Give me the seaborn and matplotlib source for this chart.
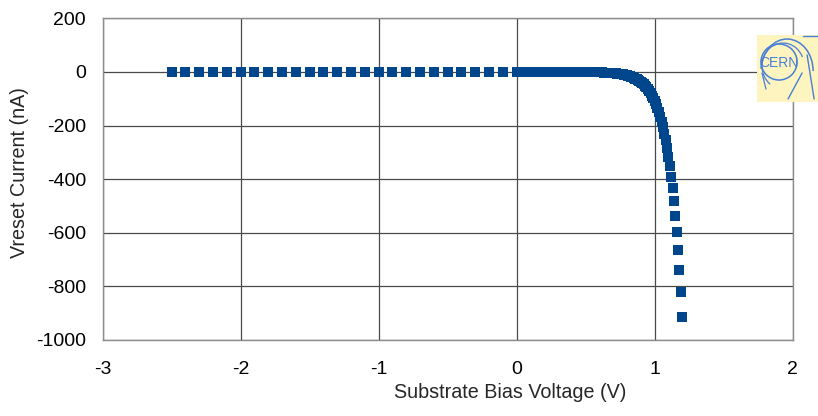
import matplotlib
matplotlib.use("Agg")
import matplotlib.pyplot as plt
from matplotlib.patches import Circle, Arc
import seaborn as sns
import pandas as pd

# Substrate bias sweep: coarse steps in reverse bias, fine steps in forward bias
reverse_bias_v = [-2.5, -2.4, -2.3, -2.2, -2.1, -2.0, -1.9, -1.8, -1.7, -1.6,
                  -1.5, -1.4, -1.3, -1.2, -1.1, -1.0, -0.9, -0.8, -0.7, -0.6,
                  -0.5, -0.4, -0.3, -0.2, -0.1]
reverse_bias_na = [0.0, 0.0, 0.0, 0.0, 0.0, 0.0, 0.0, 0.0, 0.0, 0.0,
                   0.0, 0.0, 0.0, 0.0, 0.0, 0.0, 0.0, 0.0, 0.0, 0.0,
                   0.0, 0.0, 0.0, 0.0, 0.0]

forward_bias_v = [0.00, 0.01, 0.02, 0.03, 0.04, 0.05, 0.06, 0.07, 0.08, 0.09,
                  0.10, 0.11, 0.12, 0.13, 0.14, 0.15, 0.16, 0.17, 0.18, 0.19,
                  0.20, 0.21, 0.22, 0.23, 0.24, 0.25, 0.26, 0.27, 0.28, 0.29,
                  0.30, 0.31, 0.32, 0.33, 0.34, 0.35, 0.36, 0.37, 0.38, 0.39,
                  0.40, 0.41, 0.42, 0.43, 0.44, 0.45, 0.46, 0.47, 0.48, 0.49,
                  0.50, 0.51, 0.52, 0.53, 0.54, 0.55, 0.56, 0.57, 0.58, 0.59,
                  0.60, 0.61, 0.62, 0.63, 0.64, 0.65, 0.66, 0.67, 0.68, 0.69,
                  0.70, 0.71, 0.72, 0.73, 0.74, 0.75, 0.76, 0.77, 0.78, 0.79,
                  0.80, 0.81, 0.82, 0.83, 0.84, 0.85, 0.86, 0.87, 0.88, 0.89,
                  0.90, 0.91, 0.92, 0.93, 0.94, 0.95, 0.96, 0.97, 0.98, 0.99,
                  1.00, 1.01, 1.02, 1.03, 1.04, 1.05, 1.06, 1.07, 1.08, 1.09,
                  1.10, 1.11, 1.12, 1.13, 1.14, 1.15, 1.16, 1.17, 1.18, 1.19,
                  1.20]
forward_bias_na = [0.0, 0.0, 0.0, 0.0, 0.0, 0.0, 0.0, 0.0, 0.0, 0.0,
                   0.0, 0.0, 0.0, 0.0, 0.0, 0.0, 0.0, 0.0, 0.0, 0.0,
                   0.0, 0.0, 0.0, 0.0, 0.0, -0.1, -0.1, -0.1, -0.1, -0.1,
                   -0.1, -0.1, -0.1, -0.1, -0.1, -0.1, -0.1, -0.2, -0.2, -0.2,
                   -0.2, -0.2, -0.3, -0.3, -0.3, -0.3, -0.4, -0.4, -0.4, -0.5,
                   -0.5, -0.6, -0.7, -0.7, -0.8, -0.9, -1.0, -1.1, -1.3, -1.4,
                   -1.6, -1.7, -1.9, -2.2, -2.4, -2.7, -3.0, -3.3, -3.7, -4.1,
                   -4.5, -5.0, -5.6, -6.2, -6.9, -7.7, -8.6, -9.5, -10.6, -11.8,
                   -13.1, -14.6, -16.2, -18.0, -20.0, -22.3, -24.7, -27.5, -30.6, -34.0,
                   -37.8, -42.1, -46.8, -52.0, -57.8, -64.3, -71.5, -79.5, -88.4, -98.3,
                   -109.3, -121.5, -135.2, -150.3, -167.1, -185.8, -206.6, -229.8, -255.5, -284.1,
                   -315.9, -351.3, -390.6, -434.4, -483.0, -537.1, -597.2, -664.0, -738.4, -821.1,
                   -913.0]

x_ticks = [-3, -2, -1, 0, 1, 2]
y_ticks = [-1000, -800, -600, -400, -200, 0, 200]
x_title = "Substrate Bias Voltage (V)"
y_title = "Vreset Current (nA)"

df = pd.DataFrame({
    "voltage": reverse_bias_v + forward_bias_v,
    "current": reverse_bias_na + forward_bias_na,
})

sns.set_style("white")
plt.rcParams["font.family"] = ["Liberation Sans", "DejaVu Sans"]
plt.rcParams["axes.unicode_minus"] = False

fig = plt.figure(figsize=(8.18, 4.16), dpi=100)
ax = fig.add_axes([0.1255, 0.1827, 0.8435, 0.7733])

sns.scatterplot(data=df, x="voltage", y="current", ax=ax, marker="s",
                s=50, color="#00468c", linewidth=0, zorder=3)

ax.set_xlim(-3, 2)
ax.set_ylim(-1000, 200)
ax.set_xticks(x_ticks)
ax.set_yticks(y_ticks)
ax.set_xticklabels([str(t) for t in x_ticks])
ax.set_yticklabels([str(t) for t in y_ticks])
ax.tick_params(axis="both", length=0, labelsize=14, colors="black")
ax.tick_params(axis="x", pad=15)
ax.tick_params(axis="y", pad=12)

ax.grid(True, color="#4a4a4a", linewidth=0.9)
ax.set_axisbelow(True)
for sp in ax.spines.values():
    sp.set_color("#8c8c8c")
    sp.set_linewidth(1.0)

ax.set_xlabel(x_title, fontsize=14.2)
ax.set_ylabel(y_title, fontsize=14.2)
ax.xaxis.label.set_va("center")
ax.yaxis.label.set_va("center")
ax.xaxis.set_label_coords(0.59, -0.163)
ax.yaxis.set_label_coords(-0.120, 0.52)

# CERN badge in the upper right corner
logo = fig.add_axes([0.9254, 0.7548, 0.0760, 0.161])
logo.set_xlim(0, 62)
logo.set_ylim(67, 0)
logo.set_facecolor("#fdf4c0")
for sp in logo.spines.values():
    sp.set_visible(False)
logo.set_xticks([])
logo.set_yticks([])
blue = "#4a7fd6"
logo.add_patch(Circle((22, 27), 18, fill=False, ec=blue, lw=1.1))
logo.add_patch(Arc((30, 36), 52, 64, theta1=185, theta2=360, ec=blue, lw=1.1))
logo.add_patch(Arc((26, 31), 42, 46, theta1=125, theta2=335, ec=blue, lw=0.9))
logo.plot([5, 9], [38, 54], color=blue, lw=0.9)
logo.plot([31, 45], [64, 38], color=blue, lw=1.0)
logo.plot([50, 57], [20, 64], color=blue, lw=1.0)
logo.plot([46, 62], [1.2, 1.2], color=blue, lw=1.0)
logo.text(22, 27.5, "CERN", color=blue, fontsize=10, ha="center", va="center")

fig.savefig("out.png", dpi=100)
